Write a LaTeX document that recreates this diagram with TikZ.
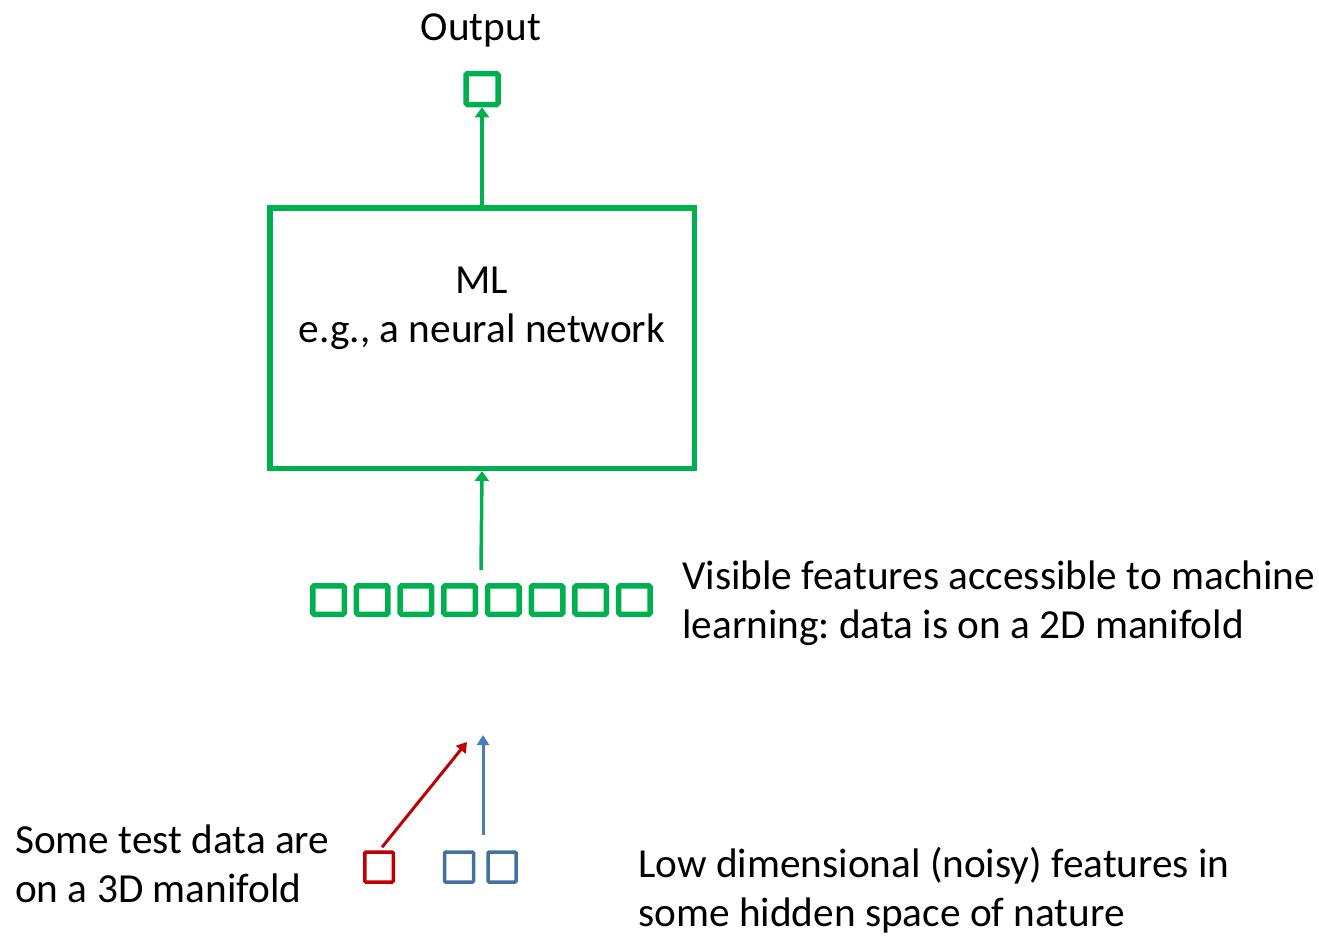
\documentclass[tikz,border=0pt]{standalone}
\usepackage{fontspec}
\setmainfont{Carlito}
\frenchspacing
\usetikzlibrary{arrows.meta}
\definecolor{mlgreen}{HTML}{00B050}
\definecolor{testred}{HTML}{C00000}
\definecolor{hidblue}{HTML}{41719C}
\definecolor{arrblue}{HTML}{4A7EBB}
\tikzset{
  x=1pt, y=-1pt,
  lbl/.style={inner sep=0pt, align=left, font=\fontsize{41.3}{49}\selectfont},
  cell/.style={draw=mlgreen, line width=5.5pt, rounded corners=1.5pt,
    minimum width=31.5pt, minimum height=28.5pt, inner sep=0pt},
  hcell/.style={line width=3.5pt, rounded corners=1pt,
    minimum width=29pt, minimum height=30pt, inner sep=0pt},
  garrow/.style={draw=mlgreen, line width=3.5pt,
    -{Triangle[width=14pt,length=10pt]}},
}
\begin{document}
\begin{tikzpicture}
\useasboundingbox (0,0) rectangle (1319,935);

% output unit and the model
\node[cell, minimum width=32pt, minimum height=31pt] (out) at (482,89) {};
\node[lbl, anchor=base] (outlbl) at (481,40) {Output};
\node[draw=mlgreen, line width=5.5pt, minimum width=424.5pt, minimum height=260.5pt,
      inner sep=0pt] (ml) at (482,338) {};
% base anchor of a two-line label sits on its last line
\node[lbl, align=center, anchor=base] (mltext) at (482,342) {ML\\e.g., a neural network};

% visible feature vector
\foreach \i in {1,...,8}
  \node[cell] (f\i) at ({328.5+43.7*(\i-1)},600) {};
\coordinate (fin) at (481,570);
\node[lbl, anchor=base west] (vislbl) at (682,638)
  {Visible features accessible to machine\\learning: data is on a 2D manifold};

% hidden-space features
\node[hcell, draw=testred, minimum width=28.5pt] (r) at (379,867) {};
\node[hcell, draw=hidblue] (b1) at (459,867) {};
\node[hcell, draw=hidblue, minimum width=28pt] (b2) at (502,867) {};
\coordinate (rtip) at (467,742);
\coordinate (bstart) at (483,835);
\coordinate (btip) at (483,735);
\node[lbl, anchor=base west] (testlbl) at (15,902) {Some test data are\\on a 3D manifold};
\node[lbl, anchor=base west] (hidlbl) at (638,926)
  {Low dimensional (noisy) features in\\some hidden space of nature};

% connectors
\draw[garrow] (ml.north) -- (out.south);
\draw[garrow] (fin) -- (ml.south);
\draw[testred, line width=3pt, -{Triangle[width=12pt,length=10pt]}] (r.north) ++(3,-3) -- (rtip);
\draw[arrblue, line width=3pt, -{Triangle[width=12pt,length=10pt]}] (bstart) -- (btip);
\end{tikzpicture}
\end{document}
